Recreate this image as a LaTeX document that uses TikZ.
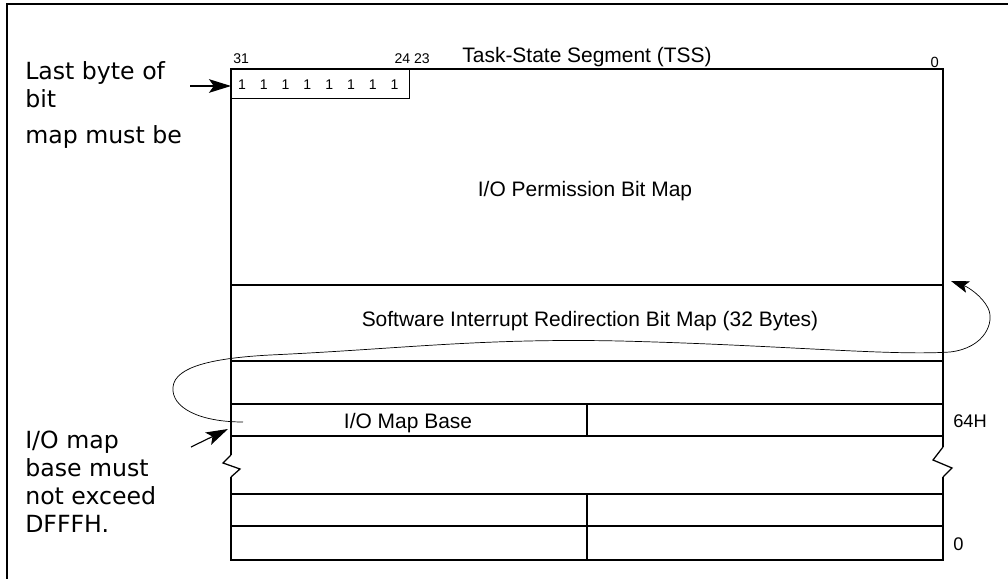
\documentclass[tikz,border=0pt]{standalone}
\usepackage{fontspec}
\setmainfont{Liberation Sans}
\newfontfamily\notefont{DejaVu Sans}
\usetikzlibrary{arrows.meta,positioning,calc}

\begin{document}
\begin{tikzpicture}[
  x=0.025cm, y=-0.025cm,
  outline/.style={line width=1.9pt, line join=miter},
  rowline/.style={line width=0.9pt},
  field/.style={font=\fontsize{14.9}{18}\selectfont, anchor=base, inner sep=0pt},
  bitnum/.style={font=\fontsize{10}{12}\selectfont, anchor=base, inner sep=0pt},
  offset/.style={font=\fontsize{13}{15}\selectfont, anchor=base west, inner sep=0pt},
  note/.style={font=\notefont\fontsize{16.8}{19.8}\selectfont, align=left, anchor=north west, inner sep=0pt},
  ptr/.style={-{Stealth[length=5.5mm,width=3.4mm,inset=1.2mm]}, line width=0.8pt},
  loopptr/.style={-{Stealth[length=4.5mm,width=3mm,inset=1mm]}, line width=0.5pt},
]
  \useasboundingbox (0,0) rectangle (1008,579);
  % page frame, only left and top edges show
  \draw[line width=2pt] (7,579) -- (7,4) -- (1008,4);

  % TSS outline, broken on both sides
  \draw[outline] (231,455) -- (231,69) -- (943,69) -- (943,447);
  \draw[outline] (231,477) -- (231,560) -- (943,560) -- (943,477);
  \draw[rowline] (231,455) -- (223,463) -- (240,469) -- (231,477);
  \draw[rowline] (943,447) -- (933,460) -- (952,468) -- (943,477);

  % rows
  \draw[line width=1.3pt] (231,285) -- (943,285);
  \foreach \y in {361,404,436,494,526}
    \draw[rowline] (231,\y) -- (943,\y);
  \draw[rowline] (587,404) -- (587,436);
  \draw[rowline] (587,494) -- (587,560);

  % last byte of the bit map
  \node[draw, rowline, minimum width=4.45cm, minimum height=0.725cm, anchor=north west, inner sep=0pt] (lastbyte) at (231,69) {};
  \foreach \i in {0,...,7}
    \node[bitnum] (one\i) at (242+21.8*\i,89) {1};

  % bit numbers and offsets
  \node[bitnum, anchor=base west] (b31) at (233,63) {31};
  \node[bitnum, anchor=base east] (b24) at (430,63) {24 23};
  \node[bitnum, font=\fontsize{10.5}{12}\selectfont, anchor=base east] (b0) at (939,67) {0};
  \node[field] (tss) at (587,62) {Task-State Segment (TSS)};
  \node[field] (iopbm) at (585,196) {I/O Permission Bit Map};
  \node[field] (sirbm) at (590,326) {Software Interrupt Redirection Bit Map (32 Bytes)};
  \node[field] (iombase) at (408,428) {I/O Map Base};
  \node[offset] (off64) at (953,427) {64H};
  \node[offset] (off0) at (953,550) {0};

  % notes on the left
  \node[note] (lastnote) at (25,61) {Last byte of\\bit\\[6pt]map must be};
  \node[note] (basenote) at (25,431) {I/O map\\base must\\not exceed\\DFFFH.};

  \coordinate (lastptr) at (190,86);
  \coordinate (baseptr) at (191,447);
  \coordinate (basetip) at (228,429);
  \coordinate (curvestart) at (243,422);
  \coordinate (redirtip) at (951,281);
  \draw[ptr] (lastptr) -- (lastptr -| lastbyte.west);
  \draw[ptr] (baseptr) -- (basetip);
  \draw[loopptr] (curvestart) .. controls (200,422) and (171,408) .. (173,387)
    .. controls (175,366) and (215,358) .. (270,355)
    .. controls (400,349) and (480,338) .. (620,341)
    .. controls (780,345) and (890,356) .. (950,352)
    .. controls (985,348) and (995,322) .. (988,308)
    .. controls (982,296) and (968,287) .. (redirtip);
\end{tikzpicture}
\end{document}
